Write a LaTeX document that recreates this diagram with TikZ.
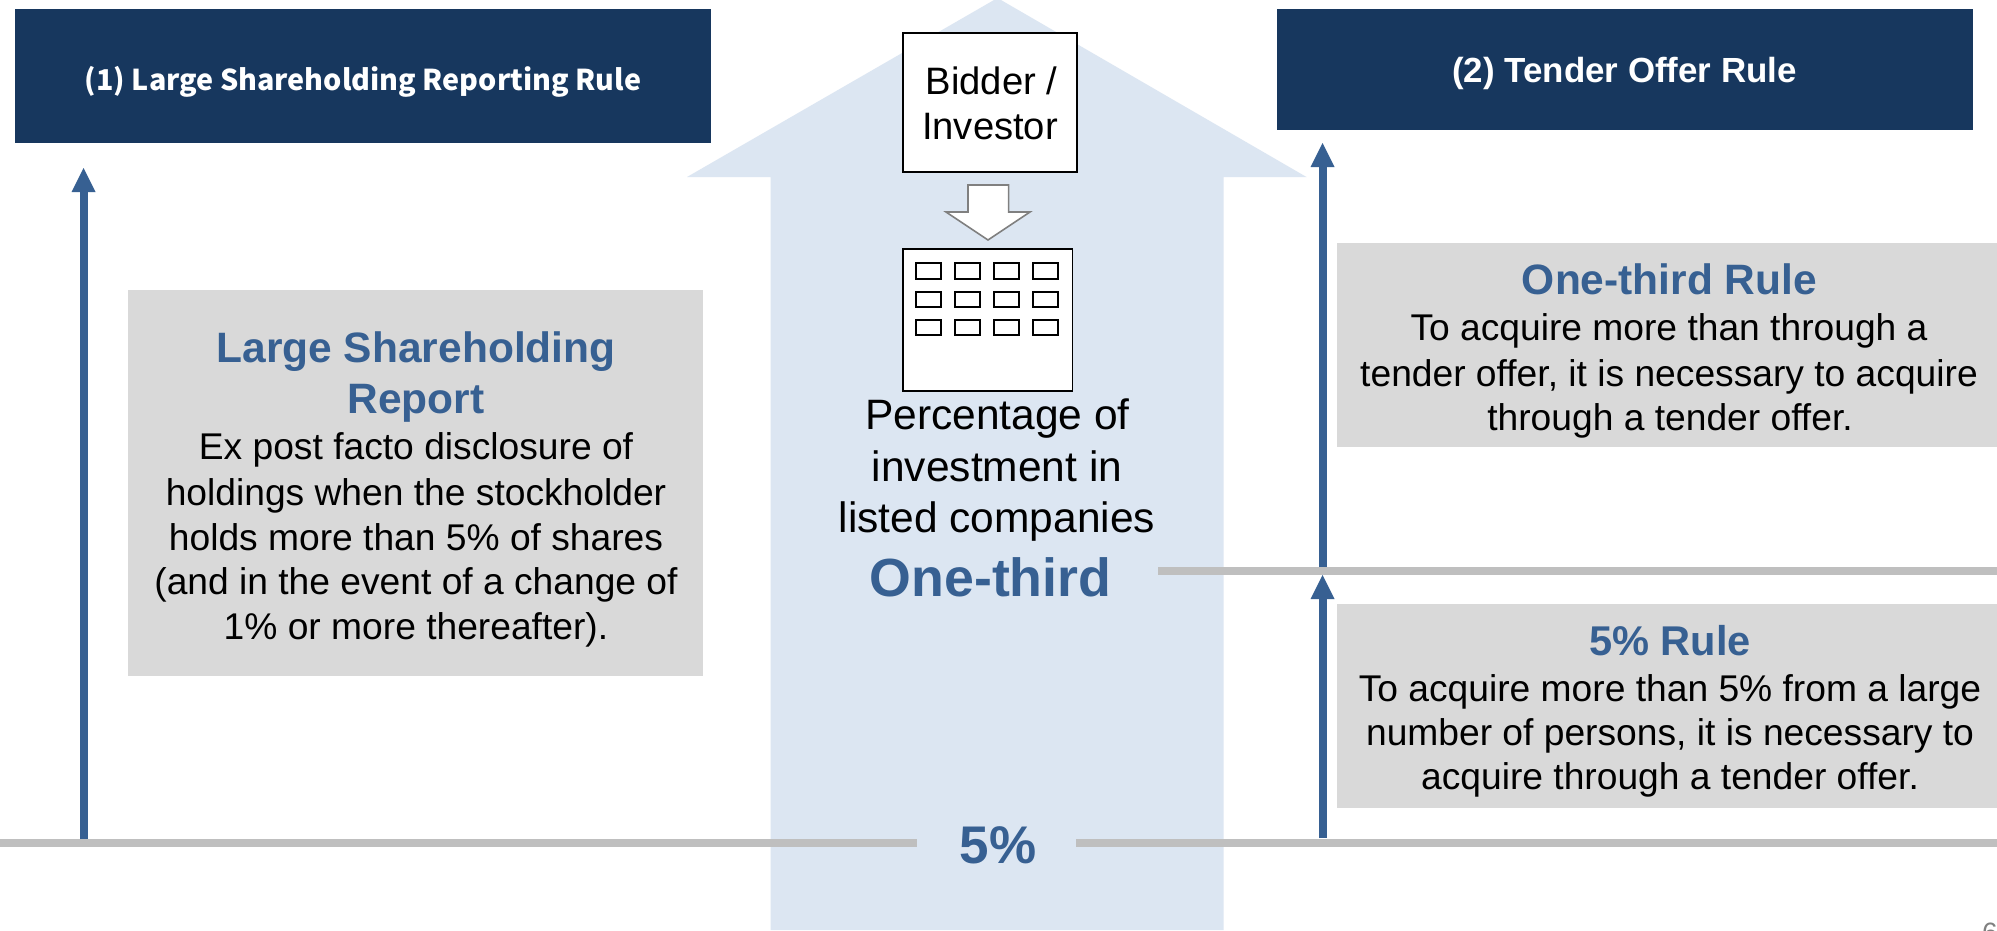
\documentclass[tikz,border=0pt]{standalone}
\usepackage{fontspec}
\setmainfont{Liberation Sans}
\newfontfamily\hdrfont{Noto Sans CJK JP}
\usetikzlibrary{arrows.meta}
\definecolor{navy}{HTML}{17375E}
\definecolor{ablue}{HTML}{376092}
\definecolor{pale}{HTML}{DCE6F2}
\definecolor{boxgray}{HTML}{D9D9D9}
\definecolor{linegray}{HTML}{BFBFBF}
\tikzset{
  x=1pt,y=-1pt,
  hdr/.style={fill=navy,draw=none,inner sep=0pt},
  graybox/.style={fill=boxgray,draw=none},
  body/.style={anchor=base,inner sep=0pt,font=\fontsize{37.2}{45}\selectfont,text=black},
  midbody/.style={anchor=base,inner sep=0pt,font=\fontsize{42.5}{50}\selectfont,text=black},
  boxbody/.style={anchor=base,inner sep=0pt,font=\fontsize{38.2}{45}\selectfont,text=black},
  heading/.style={anchor=base,inner sep=0pt,font=\fontsize{42.5}{48}\selectfont\bfseries,text=ablue},
  hline/.style={line width=8pt,draw=linegray},
  up/.style={line width=8pt,draw=ablue,-{Triangle[length=24pt,width=24pt,line width=0pt]}},
  win/.style={draw=black,line width=1.6pt,fill=white},
}
\begin{document}
\begin{tikzpicture}
\useasboundingbox (0,0) rectangle (1997,930);
\clip (0,0) rectangle (1997,930);
\fill[white] (0,0) rectangle (1997,930);
\fill[pale] (997.5,-2) -- (1306.5,177) -- (1223.7,177) -- (1223.7,930) -- (770.6,930) -- (770.6,177) -- (687,177) -- cycle;
\fill[hdr] (15,9) rectangle (711,143);
\fill[hdr] (1277,9) rectangle (1973,130);
\node[anchor=base,text=white,inner sep=0pt,font=\hdrfont\fontsize{28.7}{32}\selectfont\bfseries] (h1) at (363,90) {(1) Large Shareholding Reporting Rule};
\node[anchor=base,text=white,inner sep=0pt,font=\fontsize{34.9}{38}\selectfont\bfseries] (h2) at (1624.5,82) {(2) Tender Offer Rule};
% gray boxes
\fill[graybox] (128,290) rectangle (703,676);
\fill[graybox] (1337,243) rectangle (1997,447);
\fill[graybox] (1337,604) rectangle (1997,808);
% lines
\draw[hline] (0,842.5) -- (917,842.5);
\draw[hline] (1076,842.5) -- (1997,842.5);
\draw[hline] (1158,571) -- (1997,571);
% arrows
\coordinate (a1s) at (83.6,839); \coordinate (a1e) at (83.6,168);
\coordinate (a2s) at (1322.6,567); \coordinate (a2e) at (1322.6,143);
\coordinate (a3s) at (1322.6,838); \coordinate (a3e) at (1322.6,575);
\draw[up] (a1s) -- (a1e);
\draw[up] (a2s) -- (a2e);
\draw[up] (a3s) -- (a3e);
% bidder
\node[draw=black,line width=1.6pt,fill=white,minimum width=174pt,minimum height=139pt,inner sep=0pt] (bidder) at (990,102.5) {};
\node[boxbody] (b1) at (991.5,94) {Bidder /};
\node[boxbody] (b2) at (990,139) {Investor};
\draw[draw=gray,line width=1.6pt,fill=white] (968,185) -- (1008.6,185) -- (1008.6,212) -- (1030,212) -- (988,240) -- (946,212) -- (968,212) -- cycle;
% building
\draw[draw=black,line width=1.6pt,fill=white] (903,249) rectangle (1072.6,391);
\foreach \x in {916,955,994,1033}{
  \foreach \y/\z in {263/279,292/307,320/335}{
    \draw[win] (\x,\y) rectangle (\x+25,\z);
  }
}
\node[midbody] at (997.5,429) {Percentage of};
\node[midbody] at (997,481) {investment in};
\node[midbody] at (997,532.5) {listed companies};
\node[anchor=base,inner sep=0pt,font=\fontsize{53.7}{58}\selectfont\bfseries,text=ablue] at (990.5,596) {One-third};
\node[anchor=base,inner sep=0pt,font=\fontsize{53}{58}\selectfont\bfseries,text=ablue] at (998,863) {5\%};
% left box
\node[heading] at (416,362) {Large Shareholding};
\node[heading] at (416,413) {Report};
\node[body] at (416,459.5) {Ex post facto disclosure of};
\node[body] at (416,505) {holdings when the stockholder};
\node[body] at (416,550) {holds more than 5\% of shares};
\node[body] at (416,594) {(and in the event of a change of};
\node[body] at (416,639.5) {1\% or more thereafter).};
% right boxes
\node[heading] at (1669.5,294) {One-third Rule};
\node[body] at (1669,340) {To acquire more than through a};
\node[body] at (1669,386) {tender offer, it is necessary to acquire};
\node[body] at (1670,430) {through a tender offer.};
\node[heading,font=\fontsize{41.6}{46}\selectfont\bfseries] at (1670,655) {5\% Rule};
\node[body] at (1670,701) {To acquire more than 5\% from a large};
\node[body] at (1670,745) {number of persons, it is necessary to};
\node[body] at (1670,789) {acquire through a tender offer.};
\node[anchor=base,inner sep=0pt,font=\fontsize{28}{30}\selectfont,text=gray] at (1990,942) {6};
\end{tikzpicture}
\end{document}
